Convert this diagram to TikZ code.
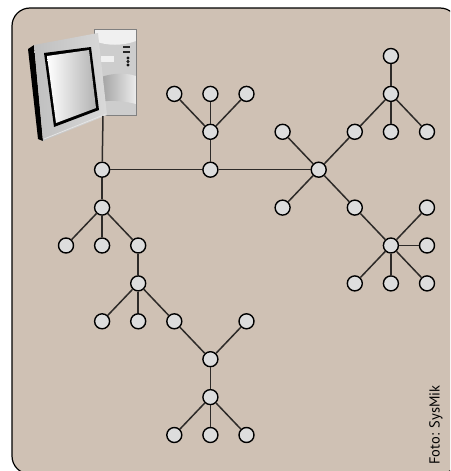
\documentclass[tikz,border=0pt]{standalone}
\usepackage{fontspec}
\setsansfont{PT Sans}
\usepackage{tikz}
\usetikzlibrary{positioning,calc}
\definecolor{panel}{RGB}{207,193,180}
\definecolor{nodegray}{RGB}{221,221,221}
\definecolor{linkgray}{RGB}{45,42,40}
\definecolor{casegray}{RGB}{205,205,205}

\begin{document}
\begin{tikzpicture}[x=1pt,y=-1pt,
  host/.style={draw=black,circle,fill=nodegray,minimum size=15pt,inner sep=0pt,line width=1.4pt},
  link/.style={draw=linkgray,line width=1.5pt}
]
\useasboundingbox (0,0) rectangle (450,471);
\clip (0,0) rectangle (450,471);
\fill[white] (0,0) rectangle (450,471);

% the panel
\draw[line width=1.2pt,fill=panel,rounded corners=18pt] (12,8) rectangle (458,474);

% the tower
\fill[casegray] (94,29) rectangle (136,115);
\fill[gray!12] (94,29) -- (136,29) -- (136,41) .. controls (122,46) and (108,46) .. (94,41) -- cycle;
\fill[black!85] (123,45.5) rectangle (130,47.5);
\fill[black!85] (123,50.5) rectangle (130,52.5);
\foreach \y in {58,61.5,65}
  \draw[black,line width=0.6pt] (128,\y) circle (1.1);
\fill[gray!12] (101,56) rectangle (114,62);
\shade[left color=gray!85,right color=gray!15] (94,103) -- (94,80) .. controls (108,73) and (124,72) .. (136,76) -- (136,104) .. controls (120,100) and (106,100) .. (94,103) -- cycle;
\draw[gray,line width=0.5pt] (94,29) rectangle (136,115);

% the monitor
\fill[black] (28,49) -- (34,45) -- (43,141) -- (38,139) -- cycle;
\shade[left color=gray!50,right color=gray!30] (34,45) -- (98,33) -- (107,115) -- (43,141) -- cycle;
\draw[white!80!gray,line width=0.8pt] (44,139) -- (106,114);
\fill[black] (44,53) -- (91,47) -- (99,110) -- (54,127) -- cycle;
\shade[left color=white,right color=gray!60] (47,56) -- (89,50) -- (96,108) -- (56,123) -- cycle;
\coordinate (pc) at (103,116);

\begin{scope}[shift={(66,56)},x=36.1pt,y=-37.9pt]
% the backbone
\node[host] (n1) at (1,3) {};
\node[host] (n2) at (4,3) {};
\node[host] (n3) at (7,3) {};

% the branch below n1
\node[host] (l1) at (1,4) {};
\foreach \i in {0,1,2}
  \node[host] (l1\i) at (\i,5) {};
\node[host] (l2) at (2,6) {};
\foreach \i in {1,2,3,5}
  \node[host] (l2\i) at (\i,7) {};
\node[host] (l3) at (4,8) {};
\node[host] (l4) at (4,9) {};
\foreach \i in {3,4,5}
  \node[host] (l4\i) at (\i,10) {};

% the branch above n2
\node[host] (m1) at (4,2) {};
\foreach \i in {3,4,5}
  \node[host] (m1\i) at (\i,1) {};

% the star around n3
\node[host] (c1) at (6,2) {};
\node[host] (c2) at (6,4) {};
\node[host] (c3) at (8,2) {};
\node[host] (c4) at (8,4) {};
\node[host] (r1) at (9,1) {};
\node[host] (r10) at (9,0) {};
\node[host] (r19) at (9,2) {};
\node[host] (r110) at (10,2) {};
\node[host] (r2) at (9,5) {};
\node[host] (r2a) at (10,4) {};
\node[host] (r2b) at (10,5) {};
\foreach \i in {8,9,10}
  \node[host] (r2\i) at (\i,6) {};
\end{scope}

% the links
\draw[link] (pc) -- (n1);
\draw[link] (n1) -- (n2) -- (n3);
\draw[link] (n1) -- (l1);
\foreach \i in {0,1,2}
  \draw[link] (l1) -- (l1\i);
\draw[link] (l12) -- (l2);
\foreach \i in {1,2,3}
  \draw[link] (l2) -- (l2\i);
\draw[link] (l23) -- (l3);
\draw[link] (l25) -- (l3);
\draw[link] (l3) -- (l4);
\foreach \i in {3,4,5}
  \draw[link] (l4) -- (l4\i);
\draw[link] (n2) -- (m1);
\foreach \i in {3,4,5}
  \draw[link] (m1) -- (m1\i);
\foreach \i in {1,2,3,4}
  \draw[link] (n3) -- (c\i);
\draw[link] (c3) -- (r1);
\foreach \j in {r10,r19,r110}
  \draw[link] (r1) -- (\j);
\draw[link] (c4) -- (r2);
\foreach \j in {r2a,r2b,r28,r29,r210}
  \draw[link] (r2) -- (\j);

% the credit
\node[rotate=90,font=\sffamily\fontsize{14.5}{16}\selectfont] (credit) at (436,425) {Foto: SysMik};
\end{tikzpicture}
\end{document}
